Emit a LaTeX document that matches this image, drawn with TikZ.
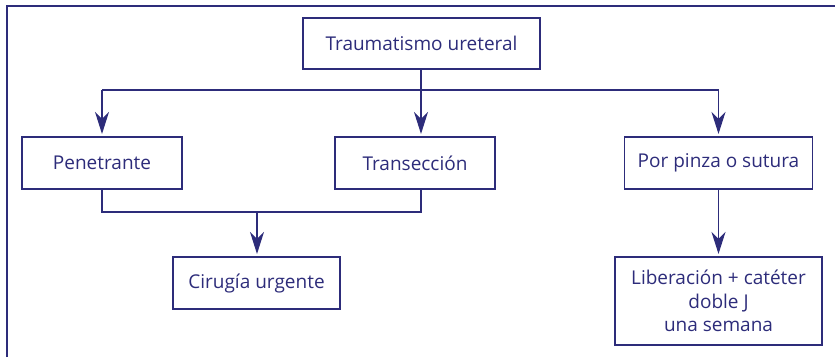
\documentclass[tikz,border=0pt]{standalone}
\usepackage{fontspec}
\setmainfont{Open Sans}
\usetikzlibrary{arrows.meta}
\definecolor{navy}{RGB}{45,44,122}
\begin{document}
\begin{tikzpicture}[x=1pt,y=-1pt,
  box/.style={draw=navy, line width=1.1pt, text=navy, font=\fontsize{19}{23.5}\selectfont, inner sep=0pt, align=center},
  conn/.style={draw=navy, line width=1.1pt},
  arr/.style={conn, -{Stealth[length=22pt,width=14pt,inset=7pt]}, shorten >=2.5pt}]
\useasboundingbox (0,0) rectangle (835,357);
\draw[navy, line width=2.2pt] (7,357) -- (7,6) -- (835,6);
\node[box, minimum width=237pt, minimum height=51pt] (t) at (421.5,43.5) {Traumatismo ureteral};
\node[box, minimum width=160pt, minimum height=52pt] (p) at (102,163) {Penetrante};
\node[box, minimum width=160pt, minimum height=52pt] (tr) at (415,163) {Transección};
\node[box, minimum width=188pt, minimum height=52pt] (pz) at (718.5,163) {Por pinza o sutura};
\node[box, minimum width=167pt, minimum height=52pt] (c) at (256.5,283) {Cirugía urgente};
\node[box, minimum width=207pt, minimum height=88pt] (l) at (718.5,301) {Liberación + catéter\\doble J\\una semana};
\coordinate (j) at (421,90);
\coordinate (m) at (257,212);
\draw[arr] (t.south -| j) -- (j |- tr.north);
\draw[conn] (p.north |- j) -- (pz.north |- j);
\draw[arr] (p.north |- j) -- (p.north);
\draw[arr] (pz.north |- j) -- (pz.north);
\draw[conn] (p.south) |- (m) -| (j |- tr.south);
\draw[arr] (m) -- (m |- c.north);
\draw[arr] (pz.south) -- (pz.south |- l.north);
\end{tikzpicture}
\end{document}
